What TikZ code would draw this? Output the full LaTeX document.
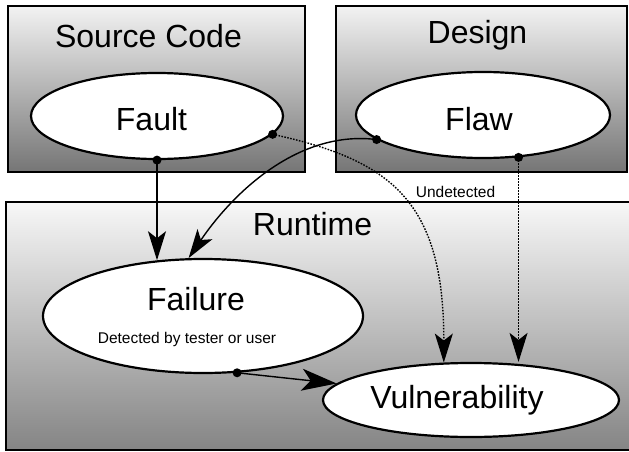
\documentclass[tikz,border=0pt]{standalone}
\usepackage{fontspec}
\setmainfont{Liberation Sans}
\usetikzlibrary{shapes.geometric,arrows.meta}

\tikzset{
  area/.style={draw=black, line width=2.4pt},
  item/.style={ellipse, draw=black, fill=white, line width=2.2pt, inner sep=0pt},
  bigtext/.style={font=\fontsize{32}{36}\selectfont, anchor=base, inner sep=0pt},
  smalltext/.style={font=\fontsize{15.5}{18}\selectfont, anchor=base, inner sep=0pt},
  link/.style={line width=1.4pt, -{Stealth[length=29pt, width=18pt, inset=7pt]}},
  biglink/.style={line width=1.4pt, -{Stealth[length=35pt, width=22pt, inset=9pt]}},
  hidden/.style={link, dash pattern=on 1.6pt off 1.4pt},
  dot/.style={circle, fill=black, inner sep=0pt, minimum size=9pt},
}

\begin{document}
\begin{tikzpicture}[x=1pt, y=-1pt]
  \useasboundingbox (0,0) rectangle (629,452);

  % regions
  \shade[area, top color=black!5, bottom color=black!54] (8,6) rectangle (305,172);
  \shade[area, top color=black!5, bottom color=black!54] (336,6) rectangle (627,172);
  \shade[area, top color=black!3, bottom color=black!48] (6,202) rectangle (634,450);

  \node[bigtext] (srclabel) at (148.5,48) {Source Code};
  \node[bigtext] (deslabel) at (477.5,44) {Design};
  \node[bigtext] (runlabel) at (312.5,235) {Runtime};

  % items
  \node[item, minimum width=252pt, minimum height=86pt] (fault) at (157,116) {};
  \node[item, minimum width=254pt, minimum height=86pt] (flaw) at (483,115) {};
  \node[item, minimum width=320pt, minimum height=114pt] (failure) at (203,316) {};
  \node[item, minimum width=296pt, minimum height=74pt] (vuln) at (471,400) {};

  \node[bigtext] (faulttext) at (151.5,130) {Fault};
  \node[bigtext] (flawtext) at (479,130) {Flaw};
  \node[bigtext] (failtext) at (196,310) {Failure};
  \node[smalltext] (failnote) at (187,343) {Detected by tester or user};
  \node[bigtext] (vulntext) at (457,408) {Vulnerability};
  \node[smalltext] (undet) at (455.5,197) {Undetected};

  % connectors
  \draw[link] (fault.south) -- (fault.south |- failure.129);
  \draw[link] (flaw.193.2) .. controls (300,130) and (235,190) .. (failure.104);
  \draw[hidden] (fault.-9.1) .. controls (390,160) and (444,200) .. (vuln.126.6);
  \draw[hidden] (flaw.-50.6) -- (flaw.-50.6 |- vuln.north);
  \draw[biglink] (failure.-59.4) -- (vuln.173);

  % junction dots
  \node[dot] (d1) at (fault.south) {};
  \node[dot] (d2) at (fault.-9.1) {};
  \node[dot] (d3) at (flaw.193.2) {};
  \node[dot] (d4) at (flaw.-50.6) {};
  \node[dot] (d5) at (failure.-59.4) {};
\end{tikzpicture}
\end{document}
